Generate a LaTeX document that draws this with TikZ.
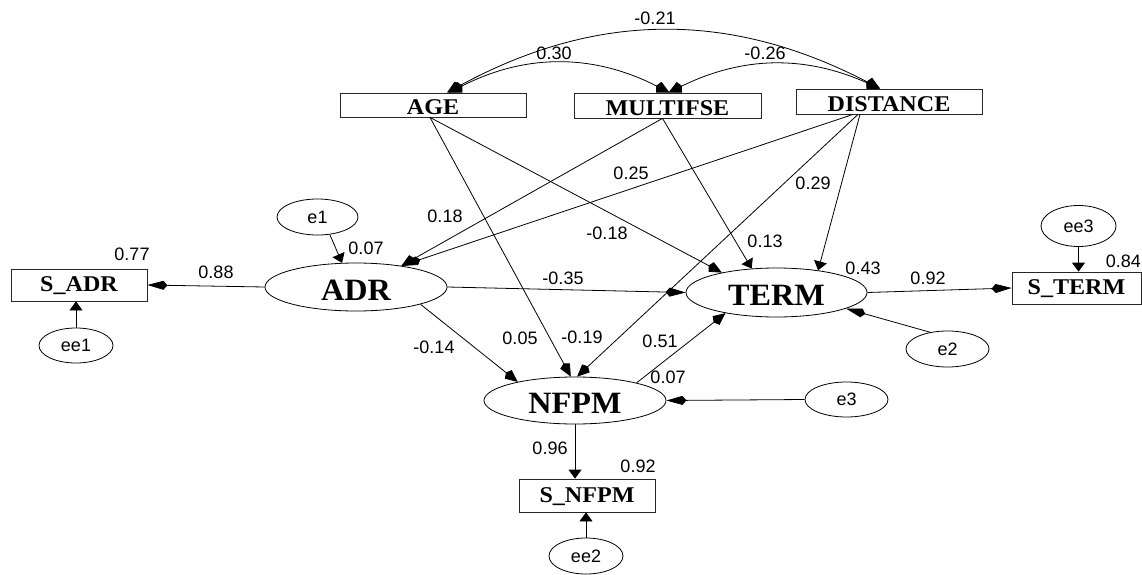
\documentclass[tikz,border=0pt]{standalone}
\usepackage{fontspec}
\setmainfont{Liberation Serif}
\setsansfont{Liberation Sans}
\newfontfamily\boxfont[FakeStretch=1.07]{Liberation Serif}
\newfontfamily\latfont[FakeStretch=1.04]{Liberation Serif}
\usetikzlibrary{shapes.geometric,arrows.meta}
\tikzset{
  obs/.style={draw=black!85, line width=0.8pt, rectangle, inner sep=0pt,
    font=\boxfont\fontsize{22.5}{26}\selectfont\bfseries, text height=20pt, text depth=0pt},
  obsS/.style={obs, text height=13pt},
  lat/.style={draw, line width=0.8pt, ellipse, inner sep=0pt,
    font=\latfont\fontsize{31}{34}\selectfont\bfseries, text height=26pt, text depth=0pt},
  err/.style={draw, line width=0.8pt, ellipse, inner sep=0pt,
    font=\sffamily\fontsize{18}{20}\selectfont},
  lbl/.style={inner sep=0pt, font=\sffamily\fontsize{18}{20}\selectfont},
  conn/.style={draw, line width=0.8pt},
  ah/.style={conn, -{Kite[length=20pt,width=9pt,inset=4pt]}},
  av/.style={conn, -{Triangle[length=9pt,width=13pt]}},
  ad/.style={conn, -{Kite[length=15pt,width=11pt,inset=3pt]}},
  cov/.style={conn, {Kite[length=15pt,width=12pt,inset=3pt]}-{Kite[length=15pt,width=12pt,inset=3pt]}}
}
\begin{document}
\begin{tikzpicture}[x=1pt,y=-1pt]
\useasboundingbox (0,0) rectangle (1142,575);

% observed variables
\node[obs, minimum width=186pt, minimum height=24pt] (AGE) at (433,105) {AGE};
\node[obs, minimum width=187pt, minimum height=25pt] (MULT) at (667.5,105.5) {MULTIFSE};
\node[obs, minimum width=186pt, minimum height=25pt] (DIST) at (889,101.5) {DISTANCE};
\node[obsS, minimum width=136pt, minimum height=32pt] (SADR) at (79,285) {S\_ADR};
\node[obsS, minimum width=129pt, minimum height=32pt] (STERM) at (1076.5,288) {S\_TERM};
\node[obsS, minimum width=136pt, minimum height=33pt] (SNFPM) at (587,495.5) {S\_NFPM};

% latent variables
\node[lat, minimum width=182pt, minimum height=48pt] (ADR) at (356,287) {ADR};
\node[lat, minimum width=181pt, minimum height=49pt] (TERM) at (776.5,292.5) {TERM};
\node[lat, minimum width=182pt, minimum height=47pt] (NFPM) at (575,400.5) {NFPM};

% error terms
\node[err, minimum width=81pt, minimum height=36pt] (e1) at (317.5,217) {e1};
\node[err, minimum width=74pt, minimum height=35pt] (ee1) at (76,345.5) {ee1};
\node[err, minimum width=75pt, minimum height=41pt] (ee3) at (1078.5,226) {ee3};
\node[err, minimum width=83pt, minimum height=36pt] (e2) at (947.5,349) {e2};
\node[err, minimum width=83pt, minimum height=35pt] (e3) at (846.5,399.5) {e3};
\node[err, minimum width=74pt, minimum height=36pt] (ee2) at (586,556) {ee2};

% covariances
\draw[cov] ([xshift=16pt]AGE.north) to[bend left=27] ([xshift=2pt]MULT.north);
\draw[cov] ([xshift=1pt]MULT.north) to[bend left=25] ([xshift=-9pt]DIST.north);
\draw[cov] ([xshift=14pt]AGE.north) to[bend left=28] ([xshift=-9pt]DIST.north);

% paths
\draw[ah] (ADR.west) -- (SADR.east);
\draw[av] (ee1.north) -- (ee1.north |- SADR.south);
\draw[av] (e1.-55) -- (ADR.120);
\draw[ah] (ADR.east) -- (TERM.west);
\draw[ad] (ADR.-15) -- (NFPM.162);
\draw[ad] ([xshift=-3pt]AGE.south) -- (TERM.160);
\draw[ad] ([xshift=-3pt]AGE.south) -- (NFPM.100);
\draw[ad] ([xshift=-5pt]MULT.south) -- (ADR.25);
\draw[av] ([xshift=-5pt]MULT.south) -- (TERM.136);
\draw[ah] ([xshift=-36pt]DIST.south) -- (ADR.25);
\draw[ad] ([xshift=-31pt]DIST.south) -- (NFPM.85);
\draw[av] ([xshift=-29pt]DIST.south) -- (TERM.28);
\draw[ad] (NFPM.16) -- (TERM.202);
\draw[ah] (e3.west) -- (NFPM.east);
\draw[ah] (e2.136) -- (TERM.-13);
\draw[ah] (TERM.east) -- (STERM.west);
\draw[av] (ee3.south) -- (ee3.south |- STERM.north);
\draw[av] (NFPM.south) -- (NFPM.south |- SNFPM.north);
\draw[av] (ee2.north) -- (ee2.north |- SNFPM.south);

% labels
\node[lbl] (l1) at (655,18) {-0.21};
\node[lbl] (l2) at (554,53) {0.30};
\node[lbl] (l3) at (765,53) {-0.26};
\node[lbl] (l4) at (631,173) {0.25};
\node[lbl] (l5) at (813,183) {0.29};
\node[lbl] (l6) at (445,216) {0.18};
\node[lbl] (l7) at (607,233) {-0.18};
\node[lbl] (l8) at (765,241) {0.13};
\node[lbl] (l9) at (366,248) {0.07};
\node[lbl] (l10) at (132,254) {0.77};
\node[lbl] (l11) at (216,272) {0.88};
\node[lbl] (l12) at (563,278) {-0.35};
\node[lbl] (l13) at (863,268) {0.43};
\node[lbl] (l14) at (928,278) {0.92};
\node[lbl, anchor=east] (l15) at (1141,261) {0.84};
\node[lbl] (l16) at (434,347) {-0.14};
\node[lbl] (l17) at (520,338) {0.05};
\node[lbl] (l18) at (582,337) {-0.19};
\node[lbl] (l19) at (660,341) {0.51};
\node[lbl] (l20) at (668,377) {0.07};
\node[lbl] (l21) at (550,448) {0.96};
\node[lbl] (l22) at (638,466) {0.92};
\end{tikzpicture}
\end{document}
